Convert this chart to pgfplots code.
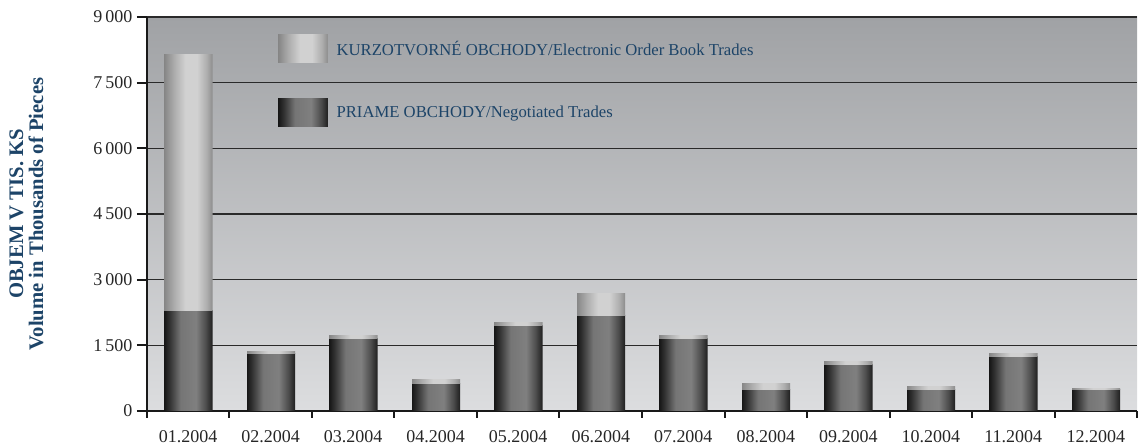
\documentclass[border=0pt]{standalone}
\usepackage{fontspec}
\setmainfont{Liberation Serif}
\usepackage{pgfplots}
\usepackage{pgfplotstable}
\pgfplotsset{compat=1.18}

\definecolor{txtblue}{HTML}{1D4468}
\definecolor{bgtop}{HTML}{A0A2A5}
\definecolor{bgbot}{HTML}{DCDDDF}
\definecolor{gridc}{HTML}{2A2A2A}

% cylinder-like shadings for the bars
\pgfdeclarehorizontalshading{darkcyl}{50bp}{color(0bp)=(black!92); color(6bp)=(black!80); color(17bp)=(black!54); color(33bp)=(black!50); color(43bp)=(black!70); color(50bp)=(black!88)}
\pgfdeclarehorizontalshading{lightcyl}{50bp}{color(0bp)=(black!48); color(10bp)=(black!33); color(22bp)=(black!18); color(34bp)=(black!18); color(44bp)=(black!32); color(50bp)=(black!45)}

% one shaded bar per data point; height in data units is \barh
% (axis: 295.5pt for 9000 units)
\pgfdeclareplotmark{darkbar}{\shade[shading=darkcyl, draw=none] (-18.25pt,0pt) rectangle (18.25pt,\barh*0.0328333pt);}
\pgfdeclareplotmark{lightbar}{\shade[shading=lightcyl, draw=none] (-18.25pt,0pt) rectangle (18.25pt,\barh*0.0328333pt);}

\pgfplotstableread{
x neg elec
0 2284 5848
1 1309 61
2 1652 61
3 617 91
4 1949 61
5 2177 518
6 1652 61
7 487 130
8 1051 68
9 487 61
10 1241 61
11 487 38
}\volumes

\begin{document}
\begin{tikzpicture}
\begin{axis}[
  width=742.5pt, height=295.5pt,
  scale only axis,
  xmin=-0.5, xmax=11.5,
  ymin=0, ymax=9000,
  axis x line*=bottom, axis y line*=left,
  axis line style={line width=1.5pt, black!90},
  axis background/.style={shade, top color=bgtop, bottom color=bgbot},
  xtick={0,...,11},
  xticklabels={01.2004,02.2004,03.2004,04.2004,05.2004,06.2004,07.2004,08.2004,09.2004,10.2004,11.2004,12.2004},
  major x tick style={draw=none},
  minor xtick={-0.5,0.5,...,11.5},
  minor x tick style={line width=1.5pt, black!90},
  minor tick length=5pt,
  ytick={0,1500,...,9000},
  yticklabels={0,1\,500,3\,000,4\,500,6\,000,7\,500,9\,000},
  major y tick style={line width=1.5pt, black!90},
  major tick length=7.5pt,
  tick align=outside,
  ymajorgrids,
  major grid style={line width=1.1pt, gridc},
  tick label style={font=\fontsize{13.5}{14}\selectfont, text=black!85},
  xticklabel style={yshift=-4pt},
  ylabel={OBJEM V TIS. KS\\Volume in Thousands of Pieces},
  ylabel style={at={(rel axis cs:-0.1217,0.5)}, anchor=center, align=center,
    font=\bfseries\fontsize{15.5}{15}\selectfont, text=txtblue, inner sep=0pt},
  reverse legend,
  legend style={draw=none, fill=none, at={(0.132,0.955)}, anchor=north west,
    inner sep=0pt, row sep=27pt, column sep=4.5pt,
    font=\fontsize{12.5}{13}\selectfont, text=txtblue},
  legend cell align=left,
  after end axis/.code={
    \path (rel axis cs:0,1) ++(-110.25pt,12.75pt);
    \path (rel axis cs:1,0) ++(2.25pt,-27pt);
  },
]
\addplot[only marks, mark=darkbar,
  visualization depends on={\thisrow{neg} \as \barh},
  legend image code/.code={\shade[shading=darkcyl, draw=none] (0pt,-10.5pt) rectangle (37.5pt,10.5pt);}]
  table[x=x, y expr=0] {\volumes};
\addlegendentry{PRIAME OBCHODY/Negotiated Trades}
\addplot[only marks, mark=lightbar,
  visualization depends on={\thisrow{elec} \as \barh},
  legend image code/.code={\shade[shading=lightcyl, draw=none] (0pt,-10.5pt) rectangle (37.5pt,10.5pt);}]
  table[x=x, y=neg] {\volumes};
\addlegendentry{KURZOTVORNÉ OBCHODY/Electronic Order Book Trades}
\end{axis}
\end{tikzpicture}
\end{document}
